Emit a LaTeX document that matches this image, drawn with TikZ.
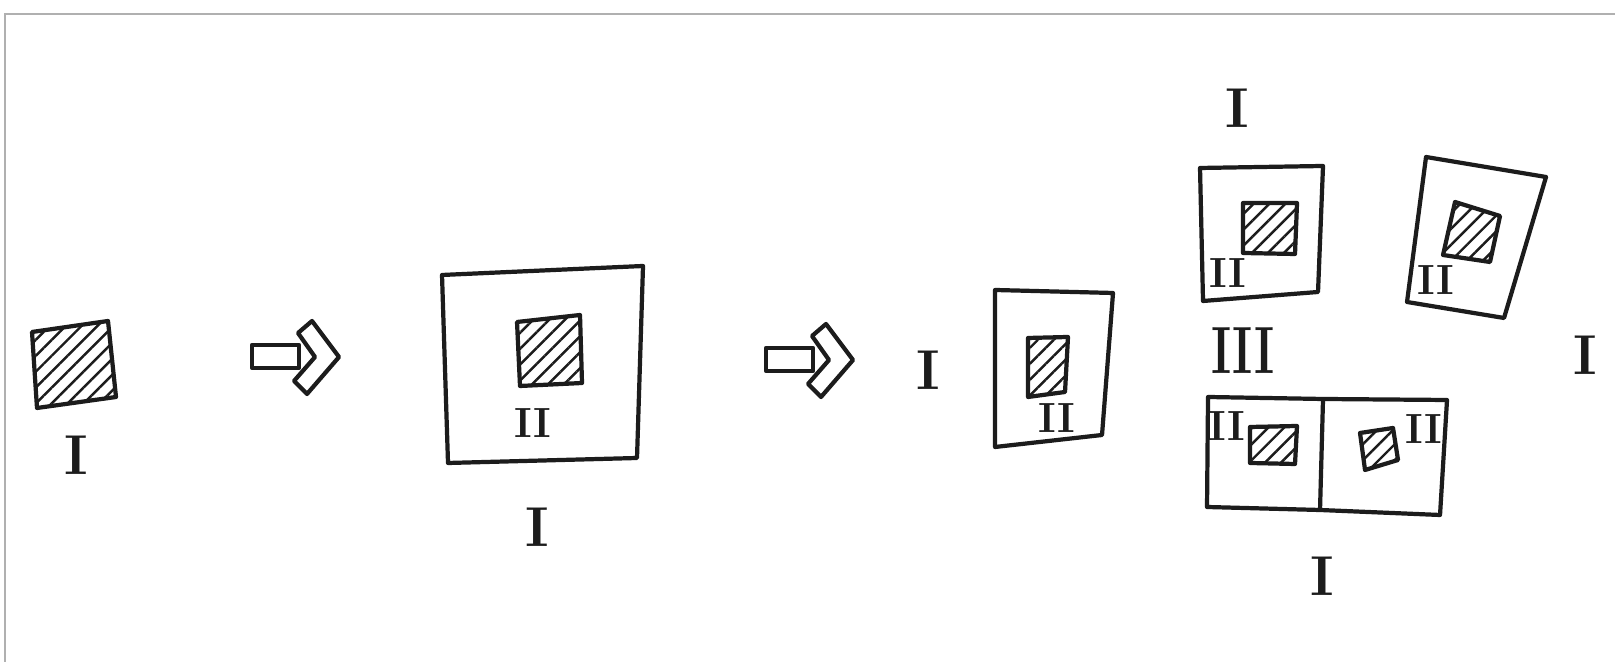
\documentclass[tikz,border=0pt]{standalone}
\usepackage{xcolor}
\usepackage{tikz}
\usetikzlibrary{patterns.meta}
\definecolor{SkInk}{HTML}{1C1C1C}
\definecolor{SkFrame}{HTML}{B0B0B0}
\tikzset{
  skbox/.style={draw=SkInk,line width=1.2pt,line join=round},
  skhatch/.style={skbox,pattern={Lines[angle=45,distance=3.2pt,line width=0.7pt]},pattern color=SkInk},
  numone/.style={text=SkInk,inner sep=0pt,font=\fontsize{16}{18}\selectfont\bfseries},
  numtwo/.style={text=SkInk,inner sep=0pt,font=\fontsize{12}{14}\selectfont\bfseries},
  numthree/.style={text=SkInk,inner sep=0pt,font=\fontsize{19}{21}\selectfont\bfseries}
}
\begin{document}
\begin{tikzpicture}[x=1cm,y=1cm]
\path[use as bounding box,fill=white] (0,0) rectangle (16.15,6.62);
\draw[SkFrame,line width=0.8pt] (0.05,0) -- (0.05,6.48) -- (16.15,6.48);
% single square
\draw[skhatch] (0.32,3.30) -- (1.08,3.41) -- (1.16,2.65) -- (0.37,2.54) -- cycle;
\node[numone] (lblA) at (0.76,2.07) {I};
% block arrows
\foreach \ax/\ay in {3.39/3.05, 8.53/3.02} {
  \begin{scope}[shift={(\ax,\ay)}]
  \draw[skbox] (-0.87,0.12) rectangle (-0.40,-0.11);
  \draw[skbox] (-0.41,0.24) -- (-0.27,0.36) -- (0,0) -- (-0.32,-0.37) -- (-0.45,-0.24) -- (-0.24,0) -- cycle;
  \end{scope}
}
% square in square
\draw[skbox] (4.42,3.87) -- (6.43,3.96) -- (6.37,2.04) -- (4.48,1.99) -- cycle;
\draw[skhatch] (5.17,3.40) -- (5.80,3.47) -- (5.82,2.79) -- (5.20,2.76) -- cycle;
\node[numtwo] (lblBtwo) at (5.33,2.39) {II};
\node[numone] (lblBone) at (5.37,1.35) {I};
% cut piece
\node[numone] (lblCone) at (9.28,2.92) {I};
\draw[skbox] (9.95,3.72) -- (11.13,3.69) -- (11.02,2.27) -- (9.95,2.15) -- cycle;
\draw[skhatch] (10.28,3.24) -- (10.68,3.25) -- (10.65,2.70) -- (10.28,2.65) -- cycle;
\node[numtwo] (lblCtwo) at (10.57,2.44) {II};
% upper pieces
\node[numone] (lblDone) at (12.37,5.54) {I};
\draw[skbox] (12.00,4.94) -- (13.23,4.96) -- (13.18,3.70) -- (12.03,3.61) -- cycle;
\draw[skhatch] (12.43,4.59) -- (12.97,4.59) -- (12.95,4.08) -- (12.43,4.09) -- cycle;
\node[numtwo] (lblDtwo) at (12.28,3.89) {II};
\draw[skbox] (14.26,5.05) -- (15.46,4.85) -- (15.04,3.44) -- (14.07,3.60) -- cycle;
\draw[skhatch] (14.55,4.60) -- (15.00,4.46) -- (14.90,4.00) -- (14.43,4.07) -- cycle;
\node[numtwo] (lblEtwo) at (14.36,3.82) {II};
\node[numthree] (lblThree) at (12.43,3.11) {\scalebox{0.72}[1]{III}};
\node[numone] (lblEone) at (15.85,3.07) {I};
% double piece
\draw[skbox] (12.08,2.65) -- (13.23,2.63) -- (14.47,2.62) -- (14.40,1.47) -- (13.20,1.52) -- (12.07,1.55) -- cycle;
\draw[skbox] (13.23,2.63) -- (13.20,1.52);
\draw[skhatch] (12.50,2.35) -- (12.97,2.36) -- (12.95,1.98) -- (12.50,1.99) -- cycle;
\draw[skhatch] (13.60,2.29) -- (13.93,2.34) -- (13.98,2.02) -- (13.65,1.92) -- cycle;
\node[numtwo] (lblFtwo) at (12.27,2.36) {II};
\node[numtwo] (lblGtwo) at (14.24,2.33) {II};
\node[numone] (lblFone) at (13.22,0.86) {I};
\end{tikzpicture}
\end{document}
